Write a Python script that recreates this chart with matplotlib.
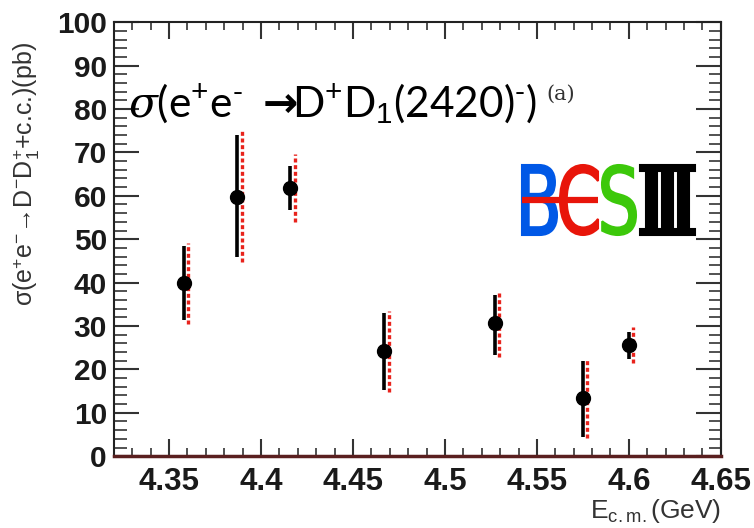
import numpy as np
import matplotlib
matplotlib.use("Agg")
import matplotlib.pyplot as plt
from matplotlib.ticker import MultipleLocator
from matplotlib.textpath import TextPath
from matplotlib.patches import PathPatch
from matplotlib.font_manager import FontProperties
from matplotlib.transforms import Affine2D
from matplotlib.lines import Line2D

plt.rcParams['mathtext.fontset'] = 'custom'
plt.rcParams['mathtext.rm'] = 'Liberation Sans'
plt.rcParams['mathtext.it'] = 'DejaVu Serif:italic'
plt.rcParams['mathtext.bf'] = 'DejaVu Sans:bold'
plt.rcParams['mathtext.fallback'] = 'stixsans'

# Datos
energia = [4.358, 4.387, 4.416, 4.467, 4.527, 4.575, 4.600]
sigma = [39.9, 59.7, 61.7, 24.3, 30.6, 13.3, 25.6]
stat_arriba = [8.5, 14.3, 5.1, 8.6, 6.5, 8.6, 3.0]
stat_abajo = [8.5, 13.8, 5.0, 9.1, 7.3, 8.8, 3.1]
tot_arriba = [9.3, 15.6, 7.9, 9.2, 7.3, 9.0, 4.2]
tot_abajo = [9.4, 14.9, 7.7, 9.6, 7.7, 9.2, 4.1]
xticks = [4.35, 4.4, 4.45, 4.5, 4.55, 4.6, 4.65]
xticklabels = ['4.35', '4.4', '4.45', '4.5', '4.55', '4.6', '4.65']

fig = plt.figure(figsize=(7.54, 5.28), dpi=100)
ax = fig.add_axes([0.151, 0.136, 0.805, 0.822])

# barras totales (rojas, punteadas) ligeramente desplazadas
E = np.array(energia)
S = np.array(sigma)
ax.vlines(E + 0.0025, S - tot_abajo, S + tot_arriba,
          colors='#e8231c', linewidth=2.4, linestyles=(0, (1.2, 0.8)), zorder=2)
# barras estadísticas (negras)
ax.errorbar(E, sigma, yerr=[stat_abajo, stat_arriba], fmt='o', color='black',
            ms=10, elinewidth=2.6, capsize=0, zorder=3)

ax.set_xlim(4.32, 4.65)
ax.set_ylim(0, 100)
ax.xaxis.set_minor_locator(MultipleLocator(0.01))
ax.yaxis.set_major_locator(MultipleLocator(10))
ax.yaxis.set_minor_locator(MultipleLocator(2))
ax.set_xticks(xticks)
ax.set_xticklabels(xticklabels)
ax.tick_params(which='both', direction='in', top=True, right=True, color='#333333')
ax.tick_params(which='major', axis='x', length=12, width=1.5, pad=8)
ax.tick_params(which='minor', axis='x', length=6, width=1.2)
ax.tick_params(which='major', axis='y', length=18, width=1.5, pad=5)
ax.tick_params(which='minor', axis='y', length=9, width=1.2)
for lab in ax.get_xticklabels():
    lab.set_fontfamily('Liberation Sans')
    lab.set_fontweight('bold')
    lab.set_fontsize(22.5)
    lab.set_color('#1a1a1a')
for lab in ax.get_yticklabels():
    lab.set_fontfamily('Liberation Sans')
    lab.set_fontweight('bold')
    lab.set_fontsize(21.5)
    lab.set_color('#1a1a1a')
for s in ['left', 'right', 'top']:
    ax.spines[s].set_linewidth(1.5)
    ax.spines[s].set_color('#222222')
ax.spines['bottom'].set_linewidth(2.5)
ax.spines['bottom'].set_color('#5a1f1f')

ax.set_ylabel(r'σ(e$^{+}$e$^{-}$→D$^{-}$D$_{1}^{+}$+c.c.)(pb)',
              fontfamily='Liberation Sans', fontsize=18, color='#333333')
ax.yaxis.set_label_coords(-0.118, 0.65)
ax.set_xlabel(r'E$_{\rm c.m.}$(GeV)', fontfamily='Liberation Sans',
              fontsize=19, color='#333333', ha='right')
ax.xaxis.set_label_coords(1.0, -0.095)

# título
fig.text(0.170, 0.778,
         r'$\sigma$(e$^{+}$e$^{\text{-}}$ $\mathbf{\rightarrow}\!\!$D$^{+}$D$_{1}$(2420)$^{\text{-}}$)',
         fontfamily='Lato', fontsize=30.5, va='baseline', ha='left', color='black')
fig.text(0.724, 0.822, '(a)', fontfamily='DejaVu Serif', fontsize=15,
         va='center', ha='left', color='#333333')

# logo BESIII (en píxeles)
fp = FontProperties(family='DejaVu Sans')
fp3 = FontProperties(family='DejaVu Serif', weight='bold')
y0, y1 = 528 - 235, 528 - 165
piezas = [('B', 522, 557, '#0058e6', fp), ('C', 560, 598, '#e8150a', fp),
          ('S', 602, 636, '#3cc80a', fp), ('\u2162', 640, 695, 'black', fp3)]
for ch, xa, xb, col, prop in piezas:
    tp = TextPath((0, 0), ch, size=100, prop=prop)
    bb = tp.get_extents()
    tr = Affine2D().translate(-bb.x0, -bb.y0).scale((xb - xa) / bb.width,
                                                     (y1 - y0) / bb.height).translate(xa, y0)
    fig.add_artist(PathPatch(tp, transform=tr, color=col, lw=1.5))
fig.add_artist(Line2D([522, 598], [(y0 + y1) / 2, (y0 + y1) / 2], transform=Affine2D(),
                      color='#e8150a', lw=4.5, solid_capstyle='butt'))

fig.savefig('out.png', dpi=100)
